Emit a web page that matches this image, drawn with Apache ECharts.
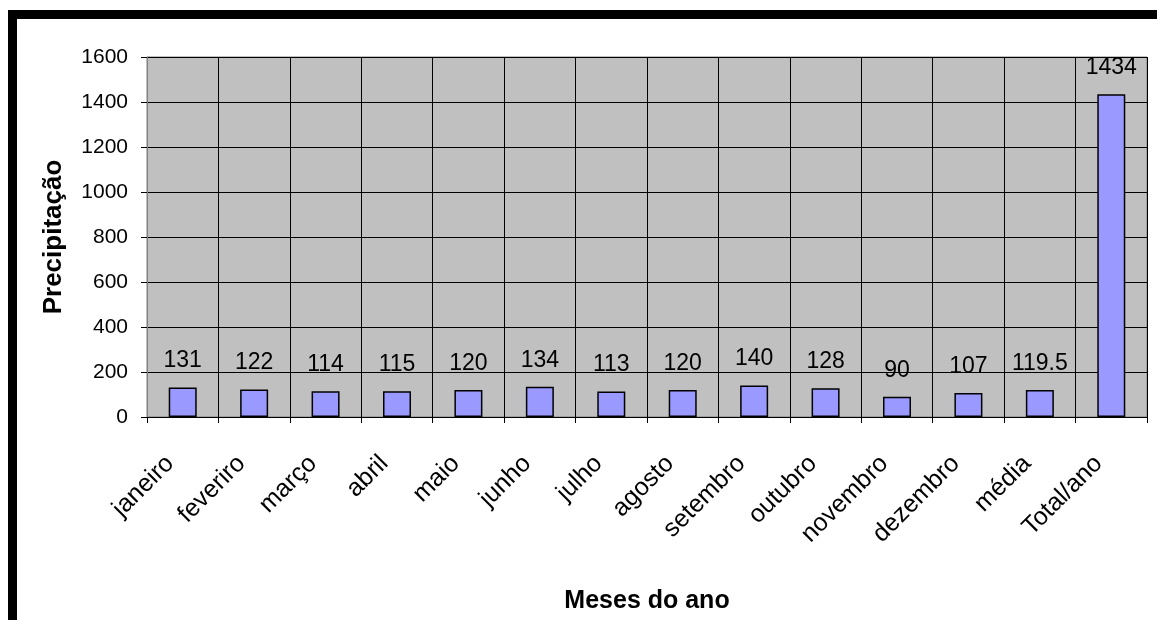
<!DOCTYPE html>
<html>
<head>
<meta charset="utf-8">
<script src="https://cdn.jsdelivr.net/npm/echarts@6/dist/echarts.min.js"></script>
<style>
  html, body { margin: 0; padding: 0; background: #ffffff; }
  #chart { width: 1157px; height: 620px; }
</style>
</head>
<body>
<div id="chart"></div>
<script>
// Precipitação mensal
const categories = ['janeiro', 'feveriro', 'março', 'abril', 'maio', 'junho', 'julho',
  'agosto', 'setembro', 'outubro', 'novembro', 'dezembro', 'média', 'Total/ano'];
const precipitacao = [131, 122, 114, 115, 120, 134, 113, 120, 140, 128, 90, 107, 119.5, 1434];
const yTicks = [0, 200, 400, 600, 800, 1000, 1200, 1400, 1600];

const font = '"Liberation Sans", Arial, sans-serif';
const chart = echarts.init(document.getElementById('chart'), null, { renderer: 'canvas' });

chart.setOption({
  animation: false,
  backgroundColor: '#ffffff',
  graphic: [
    { type: 'rect', shape: { x: 8, y: 10, width: 1149, height: 9 }, style: { fill: '#000' } },
    { type: 'rect', shape: { x: 8, y: 10, width: 9, height: 610 }, style: { fill: '#000' } }
  ],
  grid: {
    left: 147, right: 10, top: 57, bottom: 203,
    show: true, backgroundColor: '#c0c0c0', borderColor: '#808080', borderWidth: 1
  },
  xAxis: {
    type: 'category',
    data: categories,
    name: 'Meses do ano',
    nameLocation: 'middle',
    nameGap: 172,
    nameTextStyle: { fontFamily: font, fontSize: 25, fontWeight: 'bold', color: '#000' },
    axisLine: { show: true, lineStyle: { color: '#000', width: 1 } },
    axisTick: { show: true, alignWithLabel: false, interval: 0, length: 6, lineStyle: { color: '#000' } },
    axisLabel: {
      interval: 0, rotate: 45, margin: 30, padding: [0, 18, 0, 0],
      fontFamily: font, fontSize: 25, color: '#000'
    },
    splitLine: { show: true, interval: 0, lineStyle: { color: '#000', width: 1 } }
  },
  yAxis: {
    type: 'value',
    min: 0, max: 1600, interval: 200,
    name: 'Precipitação',
    nameLocation: 'middle',
    nameGap: 80,
    nameRotate: 90,
    nameTextStyle: { fontFamily: font, fontSize: 26, fontWeight: 'bold', color: '#000' },
    axisLine: { show: true, lineStyle: { color: '#808080', width: 1 } },
    axisTick: { show: true, length: 6, lineStyle: { color: '#000' } },
    axisLabel: {
      margin: 19, fontFamily: font, fontSize: 21, color: '#000',
      formatter: v => (yTicks.includes(v) ? String(v) : '')
    },
    splitLine: { show: true, lineStyle: { color: '#000', width: 1 } }
  },
  series: [{
    type: 'bar',
    data: precipitacao,
    barWidth: 28,
    itemStyle: { color: '#9999ff', borderColor: '#000', borderWidth: 1.5 },
    label: {
      show: true, position: 'top', distance: 15,
      fontFamily: font, fontSize: 23, color: '#000'
    }
  }]
});
</script>
</body>
</html>
